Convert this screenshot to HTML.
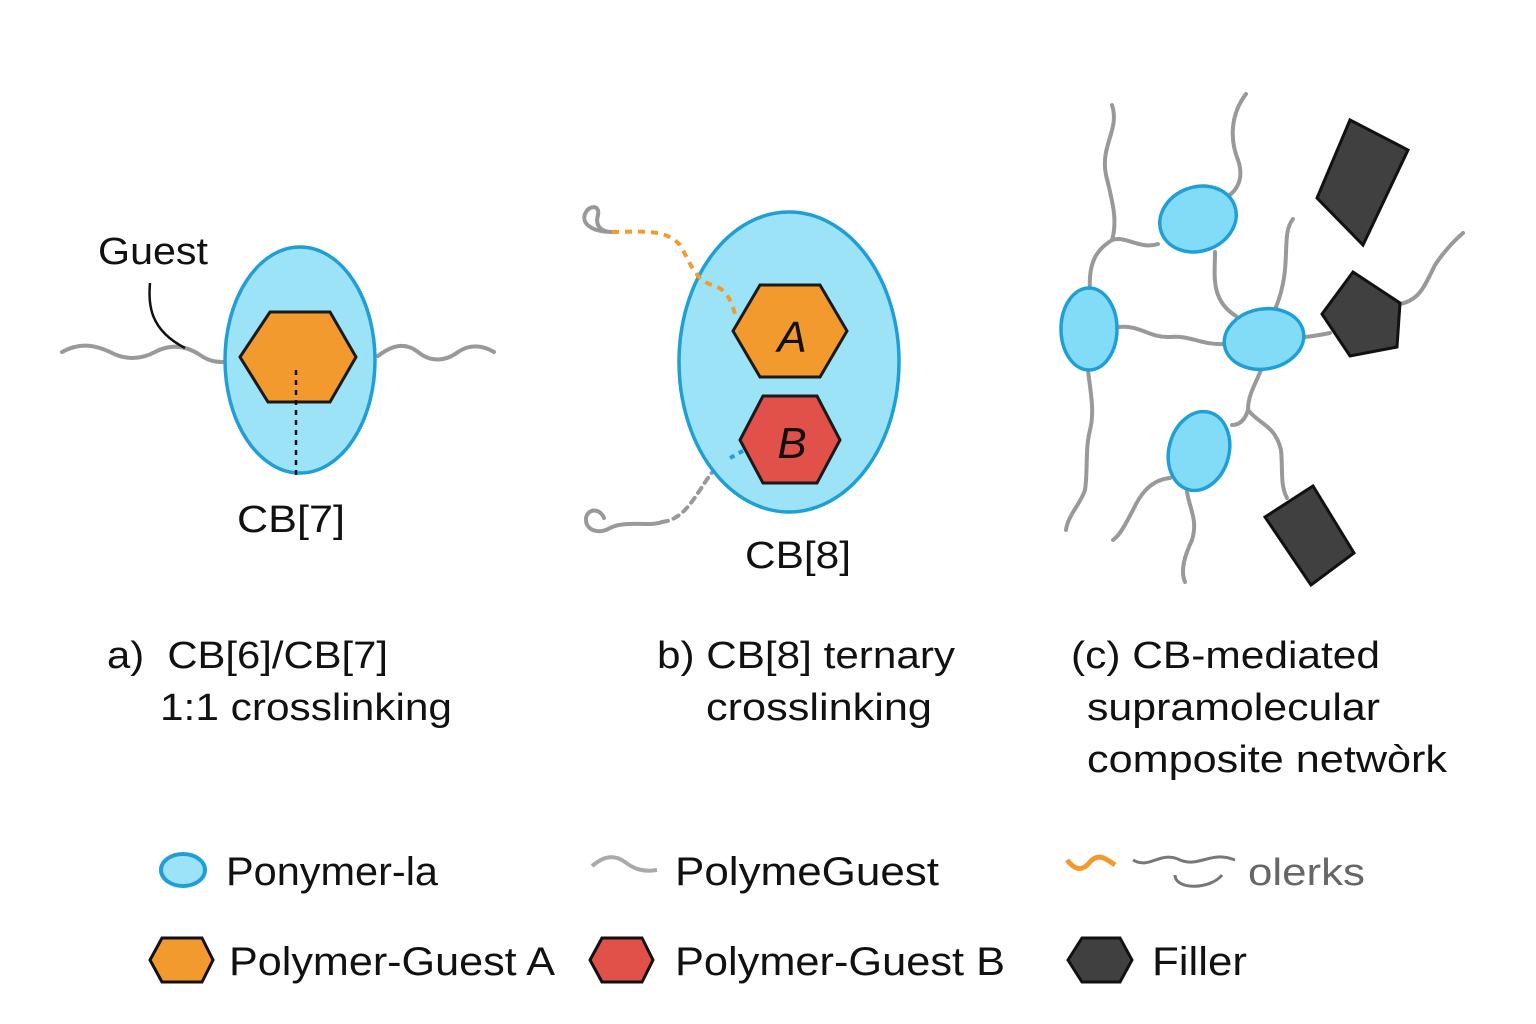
<!DOCTYPE html>
<html><head><meta charset="utf-8"><style>
html,body{margin:0;padding:0;background:#fff}
svg{display:block}
text{font-family:"Liberation Sans",sans-serif;fill:#111}
</style></head><body>
<svg width="1536" height="1024" viewBox="0 0 1536 1024" xmlns="http://www.w3.org/2000/svg">
<g fill="none" stroke="#999" stroke-width="4" stroke-linecap="round">
<path d="M62,352 C80,342 95,345 110,352 C125,360 140,360 155,352 C170,344 185,345 200,355 C210,362 218,362 224,362"/>
<path d="M378,356 C392,345 405,342 418,352 C430,362 445,362 458,352 C470,344 482,345 494,352"/>
<path d="M612,232 C600,232 595,225 598,215 C600,205 590,205 586,212 C580,222 590,232 612,232"/>
<path d="M662,522 C650,527 625,520 610,528 C598,535 585,530 586,518 C588,508 600,508 604,518" />
<path d="M662,522 C680,520 690,505 700,490 C708,478 715,465 730,458" stroke-dasharray="6 6"/>
<path d="M1112,105 C1120,130 1100,145 1106,175 C1112,200 1118,220 1112,240 C1100,248 1088,258 1090,290"/>
<path d="M1112,240 C1125,235 1140,250 1158,244"/>
<path d="M1246,94 C1230,115 1230,140 1238,160 C1245,180 1235,192 1228,196"/>
<path d="M1215,252 C1215,275 1210,300 1236,316"/>
<path d="M1293,219 C1280,235 1293,265 1276,307"/>
<path d="M1119,327 C1140,325 1150,338 1170,337 C1190,335 1200,345 1224,344"/>
<path d="M1305,337 C1315,336 1320,335 1330,333"/>
<path d="M1400,304 C1420,300 1425,285 1435,265 C1445,250 1455,240 1463,233"/>
<path d="M1088,370 C1090,390 1095,410 1090,430 C1085,450 1088,470 1085,490 C1080,505 1068,515 1066,530"/>
<path d="M1261,370 C1255,385 1248,395 1248,410 C1245,420 1240,425 1232,425"/>
<path d="M1248,410 C1260,425 1275,425 1281,450 C1283,470 1280,485 1287,498"/>
<path d="M1170,478 C1150,480 1140,495 1133,510 C1125,525 1120,535 1113,540"/>
<path d="M1187,492 C1190,510 1198,520 1192,540 C1185,555 1180,570 1185,582"/>
</g>
<ellipse cx="300" cy="360" rx="75" ry="113" fill="#9de3f8" stroke="#1f9fd6" stroke-width="3.5"/>
<polygon points="240,357 270,312 330,312 356,357 330,402 268,402" fill="#f39a2e" stroke="#1a1a1a" stroke-width="3"/>
<line x1="296" y1="370" x2="296" y2="478" stroke="#111" stroke-width="2.5" stroke-dasharray="5 5"/>
<path d="M150,283 C148,305 150,330 185,348" fill="none" stroke="#111" stroke-width="2.5"/>
<text x="98" y="264" font-size="38" textLength="110" lengthAdjust="spacingAndGlyphs">Guest</text>
<text x="237" y="532" font-size="38" textLength="108" lengthAdjust="spacingAndGlyphs">CB[7]</text>
<ellipse cx="789" cy="362" rx="110" ry="150" fill="#9de3f8" stroke="#1f9fd6" stroke-width="3.5"/>
<path d="M612,232 C640,232 665,228 680,245 C690,262 695,280 712,285 C725,288 732,300 735,315" fill="none" stroke="#f39a2e" stroke-width="4" stroke-dasharray="7 6"/>
<path d="M730,458 C736,455 740,452 745,450" stroke="#1f9fd6" stroke-width="4" stroke-dasharray="5 5" fill="none"/>
<polygon points="733,331 760,285 820,285 847,331 820,377 760,377" fill="#f39a2e" stroke="#1a1a1a" stroke-width="3"/>
<polygon points="740,440 763,396 817,396 840,440 817,483 763,483" fill="#e2504a" stroke="#1a1a1a" stroke-width="3"/>
<text x="792" y="352" font-size="44" font-style="italic" text-anchor="middle">A</text>
<text x="792" y="458" font-size="44" font-style="italic" text-anchor="middle">B</text>
<text x="745" y="568" font-size="38" textLength="106" lengthAdjust="spacingAndGlyphs">CB[8]</text>
<g fill="#82dcf7" stroke="#1f9fd6" stroke-width="3.5">
<ellipse cx="1198" cy="219" rx="39" ry="32" transform="rotate(-20 1198 219)"/>
<ellipse cx="1089" cy="329" rx="28" ry="41"/>
<ellipse cx="1264" cy="339" rx="40" ry="30" transform="rotate(-10 1264 339)"/>
<ellipse cx="1199" cy="451" rx="30" ry="40" transform="rotate(15 1199 451)"/>
</g>
<g fill="#404040" stroke="#111" stroke-width="3">
<polygon points="1350,120 1408,150 1363,245 1317,198"/>
<polygon points="1353,272 1400,303 1397,347 1350,356 1322,314"/>
<polygon points="1265,517 1313,486 1354,553 1311,585"/>
</g>
<g font-size="38">
<text x="107" y="668" textLength="281" lengthAdjust="spacingAndGlyphs">a)&#160; CB[6]/CB[7]</text>
<text x="160" y="720" textLength="292" lengthAdjust="spacingAndGlyphs">1:1 crosslinking</text>
<text x="657" y="668" textLength="298" lengthAdjust="spacingAndGlyphs">b) CB[8] ternary</text>
<text x="706" y="720" textLength="226" lengthAdjust="spacingAndGlyphs">crosslinking</text>
<text x="1071" y="668" textLength="309" lengthAdjust="spacingAndGlyphs">(c) CB-mediated</text>
<text x="1087" y="720" textLength="293" lengthAdjust="spacingAndGlyphs">supramolecular</text>
<text x="1087" y="772" textLength="360" lengthAdjust="spacingAndGlyphs">composite netwòrk</text>
</g>
<ellipse cx="183" cy="870" rx="22" ry="16" fill="#9de3f8" stroke="#1f9fd6" stroke-width="4"/>
<text x="226" y="885" font-size="40" textLength="212" lengthAdjust="spacingAndGlyphs">Ponymer-la</text>
<path d="M592,866 C605,855 615,855 625,862 C635,870 645,872 657,870" fill="none" stroke="#aaa" stroke-width="4"/>
<text x="675" y="885" font-size="40" textLength="264" lengthAdjust="spacingAndGlyphs">PolymeGuest</text>
<path d="M1067,860 C1075,870 1082,872 1090,862 C1098,853 1105,858 1115,865" fill="none" stroke="#f39a2e" stroke-width="5"/>
<path d="M1133,860 C1150,870 1160,850 1180,860 C1200,868 1210,850 1235,860 M1175,875 C1175,890 1210,890 1222,875" fill="none" stroke="#777" stroke-width="3"/>
<text x="1248" y="885" font-size="38" style="fill:#666" textLength="117" lengthAdjust="spacingAndGlyphs">olerks</text>
<polygon points="150,960 162,938 202,938 213,960 202,982 162,982" fill="#f39a2e" stroke="#111" stroke-width="3"/>
<text x="229" y="975" font-size="40" textLength="326" lengthAdjust="spacingAndGlyphs">Polymer-Guest A</text>
<polygon points="590,960 602,938 642,938 653,960 642,982 602,982" fill="#e2504a" stroke="#111" stroke-width="3"/>
<text x="675" y="975" font-size="40" textLength="330" lengthAdjust="spacingAndGlyphs">Polymer-Guest B</text>
<polygon points="1068,960 1082,938 1120,938 1132,960 1120,982 1082,982" fill="#404040" stroke="#111" stroke-width="3"/>
<text x="1152" y="975" font-size="40" textLength="95" lengthAdjust="spacingAndGlyphs">Filler</text>
</svg>
</body></html>
